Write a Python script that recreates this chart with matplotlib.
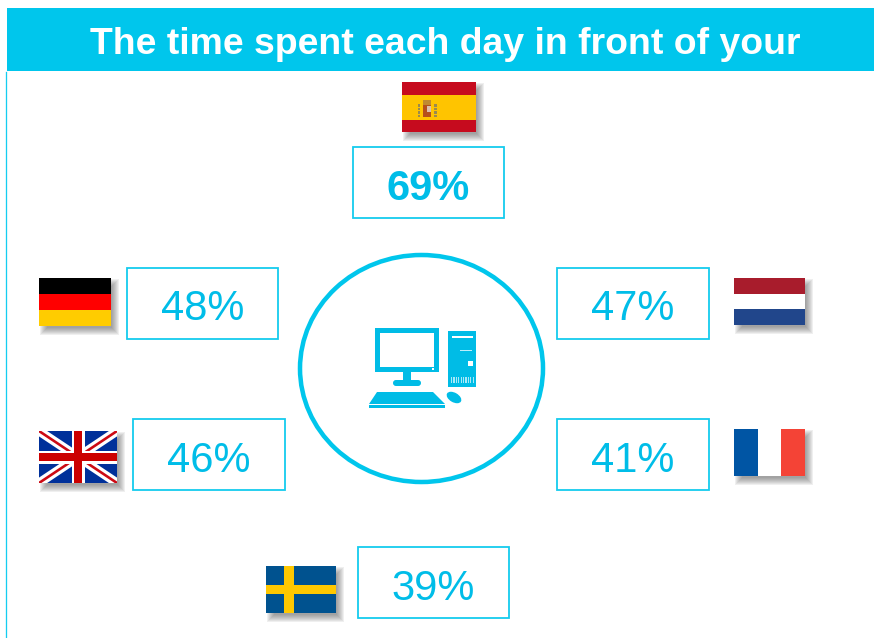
import matplotlib
matplotlib.use("Agg")
import matplotlib.pyplot as plt
from matplotlib.patches import Rectangle, Ellipse, Polygon, FancyBboxPatch

TITLE = "The time spent each day in front of your"
countries = ["Spain", "Germany", "UK", "Netherlands", "France", "Sweden"]
percents = [69, 48, 46, 47, 41, 39]

CYAN = "#00c6ec"
TEXT_CYAN = "#00bde8"
PX = 0.72  # one pixel in points at dpi 100

# layout, in image pixels: x0, y0, x1, y1
BOXES = {
    "Spain": (353, 147, 504, 218),
    "Germany": (127, 268, 278, 339),
    "UK": (133, 419, 285, 490),
    "Netherlands": (557, 268, 709, 339),
    "France": (557, 419, 709, 490),
    "Sweden": (358, 547, 509, 618),
}
FLAGS = {
    "Spain": (402, 82, 476, 132),
    "Germany": (39, 278, 111, 326),
    "UK": (39, 431, 117, 483),
    "Netherlands": (734, 278, 805, 325),
    "France": (734, 429, 805, 476),
    "Sweden": (266, 566, 336, 613),
}


def rect(ax, x0, y0, x1, y1, color, z=3, **kw):
    p = Rectangle((x0, y0), x1 - x0, y1 - y0, facecolor=color, edgecolor="none", zorder=z, **kw)
    ax.add_patch(p)
    return p


def shadow(ax, x0, y0, x1, y1):
    # soft shadow: stacked see-through rectangles
    for i in range(8):
        rect(ax, x0 + i + 1, y0 + i + 1, x1 + 8 - i, y1 + 9 - i, "#555555", z=2, alpha=0.09)


def h_stripes(ax, box, colors, fractions):
    x0, y0, x1, y1 = box
    top = y0
    for c, f in zip(colors, fractions):
        rect(ax, x0, top, x1, top + f * (y1 - y0), c)
        top += f * (y1 - y0)


def draw_spain(ax, box):
    h_stripes(ax, box, ["#c60b1e", "#ffc400", "#c60b1e"], [0.26, 0.5, 0.24])
    rect(ax, 423, 105, 431, 117, "#b5501c", z=4)
    rect(ax, 427, 106, 431, 112, "#d9c0b0", z=5)
    rect(ax, 423, 100, 431, 105, "#c08a30", z=4)
    for x in (418.5, 435):
        for y in (105, 108.5, 112, 115.5):
            rect(ax, x - 1, y - 1, x + 1.5, y + 1.5, "#9a8a50", z=4)


def draw_uk(ax, box):
    x0, y0, x1, y1 = box
    cx, cy = (x0 + x1) / 2, (y0 + y1) / 2
    clip = rect(ax, x0, y0, x1, y1, "#00309a")
    for a, b in [((x0, y0), (x1, y1)), ((x0, y1), (x1, y0))]:
        l1, = ax.plot([a[0], b[0]], [a[1], b[1]], color="white", lw=9 * PX, zorder=4, solid_capstyle="butt")
        l2, = ax.plot([a[0], b[0]], [a[1], b[1]], color="#cc0a14", lw=2.6 * PX, zorder=4, solid_capstyle="butt")
        l1.set_clip_path(clip)
        l2.set_clip_path(clip)
    rect(ax, cx - 6.5, y0, cx + 6.5, y1, "white", z=5)
    rect(ax, x0, cy - 6.5, x1, cy + 6.5, "white", z=5)
    rect(ax, cx - 4, y0, cx + 4, y1, "#cc0000", z=6)
    rect(ax, x0, cy - 4, x1, cy + 4, "#cc0000", z=6)


def draw_france(ax, box):
    x0, y0, x1, y1 = box
    w = (x1 - x0) / 3
    rect(ax, x0, y0, x0 + w, y1, "#0055a4")
    rect(ax, x0 + w, y0, x0 + 2 * w, y1, "white")
    rect(ax, x0 + 2 * w, y0, x1, y1, "#f44336")


def draw_sweden(ax, box):
    x0, y0, x1, y1 = box
    rect(ax, x0, y0, x1, y1, "#00528f")
    rect(ax, x0 + 18, y0, x0 + 28, y1, "#ffc800", z=4)
    rect(ax, x0, y0 + 19, x1, y0 + 28, "#ffc800", z=4)


def draw_computer(ax):
    c = "#00bce6"
    # monitor
    rect(ax, 375, 328, 439, 372, c)
    rect(ax, 380, 333, 434, 367, "white", z=4)
    rect(ax, 431.5, 368, 433.5, 370, "white", z=4)
    rect(ax, 403, 372, 411, 381, c)
    ax.add_patch(FancyBboxPatch((393, 380), 28, 6, boxstyle="round,pad=0,rounding_size=3", facecolor=c, edgecolor="none", zorder=3))
    # tower
    rect(ax, 448, 331, 476, 387, c)
    rect(ax, 452, 336, 473, 338, "white", z=4)
    rect(ax, 460, 349.5, 472, 350.5, "#bdeefa", z=4)
    rect(ax, 468, 361, 472.5, 365.5, "white", z=4)
    for i in range(10):
        rect(ax, 451 + i * 2.4, 377, 452.2 + i * 2.4, 383, "#a8e8f8", z=4)
    # keyboard and mouse
    ax.add_patch(Polygon([(377, 392), (433, 392), (445, 404), (369, 404)], closed=True, facecolor=c, edgecolor="none", zorder=3))
    rect(ax, 369, 405, 445, 408, c)
    ax.add_patch(Ellipse((454, 397.5), 16, 9.5, angle=30, facecolor=c, edgecolor="none", zorder=3))


fig = plt.figure(figsize=(8.74, 6.38), dpi=100)
ax = fig.add_axes([0, 0, 1, 1])
ax.set_xlim(0, 874)
ax.set_ylim(638, 0)
ax.axis("off")

# header and left rule
rect(ax, 7, 8, 874, 71, CYAN)
ax.text(445.5, 44, TITLE, color="white", fontsize=26.9, fontweight="bold",
        family="Liberation Sans", ha="center", va="center", zorder=4)
ax.plot([6.3, 6.3], [72, 638], color="#14cdf0", lw=1.3 * PX, zorder=2)

# central circle
ax.add_patch(Ellipse((421.5, 368.5), 243, 227, facecolor="white", edgecolor=CYAN, lw=4.5 * PX, zorder=2))
draw_computer(ax)

# value boxes
for name, value in zip(countries, percents):
    x0, y0, x1, y1 = BOXES[name]
    ax.add_patch(Rectangle((x0, y0), x1 - x0, y1 - y0, facecolor="white", edgecolor="#14cbee", lw=1.8 * PX, zorder=2))
    ax.text((x0 + x1) / 2, (y0 + y1) / 2 + 6, f"{value}%", color=TEXT_CYAN, fontsize=30,
            fontweight="bold" if name == "Spain" else "normal",
            family="Liberation Sans", ha="center", va="center", zorder=4)

# flags
for name in countries:
    shadow(ax, *FLAGS[name])
draw_spain(ax, FLAGS["Spain"])
h_stripes(ax, FLAGS["Germany"], ["#000000", "#ff0000", "#ffcc00"], [1 / 3, 1 / 3, 1 / 3])
draw_uk(ax, FLAGS["UK"])
h_stripes(ax, FLAGS["Netherlands"], ["#a81c2c", "white", "#21468b"], [1 / 3, 1 / 3, 1 / 3])
draw_france(ax, FLAGS["France"])
draw_sweden(ax, FLAGS["Sweden"])

fig.savefig("out.png", dpi=100)
